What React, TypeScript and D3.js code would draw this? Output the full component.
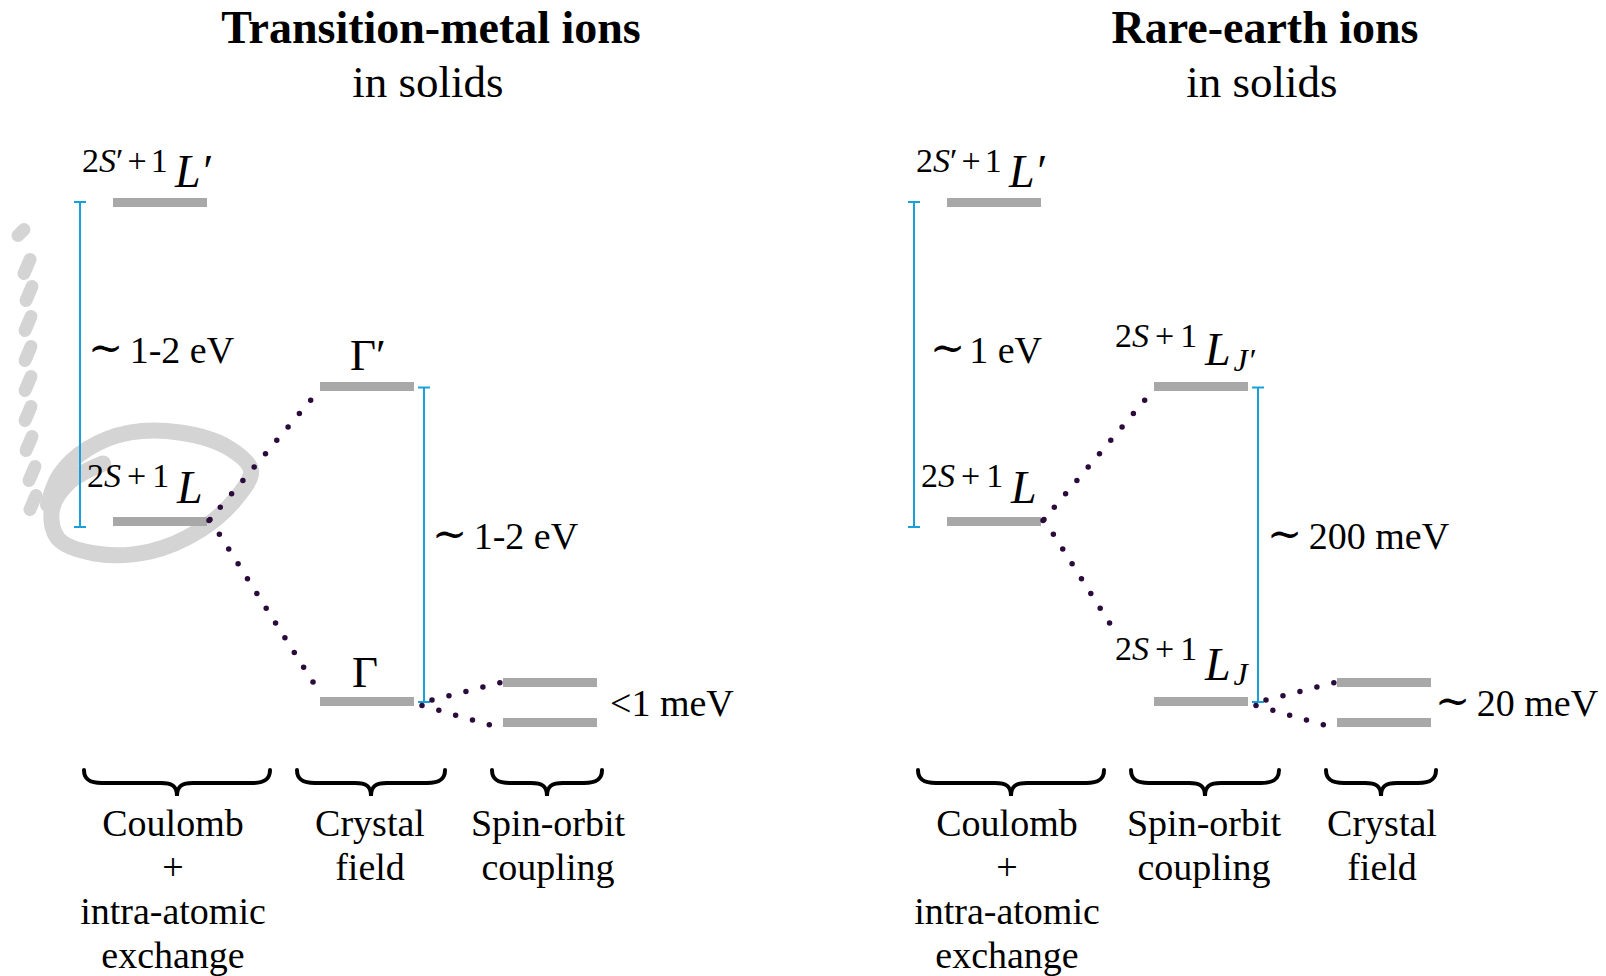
import * as d3 from "d3";
import { useEffect } from "react";

const W = 1606;
const H = 976;

// panel titles
const TITLES = ["Transition-metal ions", "Rare-earth ions"];
const SUBTITLE = "in solids";

// schematic level energies (arbitrary units)
const TERM_ENERGIES = [520, 201]; // excited term, ground term
const MID_ENERGIES = [336, 21]; // after 2nd interaction
const SPLIT_ENERGIES = [40, 0]; // after 3rd interaction

const GAP_LABELS = [
	["∼ 1-2 eV", "∼ 1-2 eV", "<1 meV"],
	["∼1 eV", "∼ 200 meV", "∼ 20 meV"],
];

const STAGE_LABELS = [
	[["Coulomb", "+", "intra-atomic", "exchange"], ["Crystal", "field"], ["Spin-orbit", "coupling"]],
	[["Coulomb", "+", "intra-atomic", "exchange"], ["Spin-orbit", "coupling"], ["Crystal", "field"]],
];

// hand-drawn highlight (offsets from the ground-term bar)
const RING = [
	[-10, -58], [-43, -40], [-61, -12], [-55, 17], [-18, 32], [37, 30], [88, 8],
	[123, -23], [138, -51], [115, -74], [67, -89], [17, -89], [-25, -73], [-53, -47], [-65, -17],
];
const DASHES = [
	[-92, -289], [-86, -255], [-84, -228], [-85, -198], [-85, -168], [-85, -138],
	[-85, -108], [-84, -78], [-81, -48], [-80, -19],
];

const SERIF = "'Liberation Serif', 'Times New Roman', serif";
const GRAY = "#a8a8a8";
const BLUE = "#1aa0d8";
const DOT = "#2a0b3c";

function bracePath(x0: number, x1: number, top: number) {
	const mid = (x0 + x1) / 2;
	const f = top + 13;
	const tip = top + 26;
	return `M${x0},${top} C${x0},${top + 9} ${x0 + 5},${f} ${x0 + 18},${f} L${mid - 16},${f} C${mid - 5},${f} ${mid},${f + 3} ${mid},${tip} C${mid},${f + 3} ${mid + 5},${f} ${mid + 16},${f} L${x1 - 18},${f} C${x1 - 5},${f} ${x1},${top + 9} ${x1},${top}`;
}

function GapLabel({ text, x, y }: { text: string; x: number; y: number }) {
	if (text.startsWith("∼")) {
		const rest = text.slice(1);
		return (
			<text x={x} y={y} fontFamily={SERIF} fontSize={38} fill="#000">
				<tspan fontFamily="'DejaVu Serif', serif" fontSize={42} dy={-1}>∼</tspan>
				<tspan dy={1} dx={rest.startsWith(" ") ? -3 : 4}>{rest}</tspan>
			</text>
		);
	}
	return (
		<text x={x} y={y} fontFamily={SERIF} fontSize={38} fill="#000">
			{text}
		</text>
	);
}

function Sup({ x, y, prime }: { x: number; y: number; prime?: boolean }) {
	return (
		<text x={x} y={y} fontFamily={SERIF} fontSize={34} fill="#000">
			<tspan>2</tspan>
			<tspan fontStyle="italic">S</tspan>
			{prime ? <tspan>′</tspan> : null}
			<tspan dx={prime ? 4 : 6}>+</tspan>
			<tspan dx={prime ? 4 : 6}>1</tspan>
		</text>
	);
}

export default function App() {
	useEffect(() => {
		document.body.style.margin = "0";
	}, []);

	const y = d3.scaleLinear().domain([0, 520]).range([722.5, 202.5]);
	const x = d3.scaleLinear().domain([0, 1, 2]).range([113, 320, 503]);
	const panelX = d3.scalePoint<number>().domain([0, 1]).range([0, 834]);
	const BAR = 94;
	const braces = [
		[84, 270],
		[297, 445],
		[492, 602],
	];
	const labelCenters = [173, 370, 548];
	const line = d3.line().curve(d3.curveCatmullRom.alpha(0.5));

	const gx = x(0);
	const gy = y(TERM_ENERGIES[1]);

	return (
		<svg width={W} height={H} style={{ position: "absolute", left: 0, top: 0, background: "#fff" }}>
			{/* hand-drawn annotation */}
			<g fill="none" stroke="#d4d4d4" strokeLinecap="round" strokeLinejoin="round">
				<path d={line(RING.map(([dx, dy]) => [gx + dx, gy + dy]) as [number, number][]) ?? ""} strokeWidth={16} />
				{DASHES.map(([dx, dy], i) => (
					<line
						key={i}
						x1={gx + dx + 3}
						y1={gy + dy - (i === 0 ? 3 : 7)}
						x2={gx + dx - 3}
						y2={gy + dy + (i === 0 ? 3 : 7)}
						strokeWidth={13}
					/>
				))}
			</g>

			{[0, 1].map((p) => {
				const ox = panelX(p) ?? 0;
				const conns = [
					[x(0) + BAR + 2, y(TERM_ENERGIES[1]) - 1, x(1) + 1, y(MID_ENERGIES[0]) + 1.5],
					[x(0) + BAR + 3, y(TERM_ENERGIES[1]) - 2, x(1) - 2, y(MID_ENERGIES[1]) - 11.5],
					[x(1) + BAR + 18, y(MID_ENERGIES[1]) - 1.5, x(2) - 2, y(SPLIT_ENERGIES[0])],
					[x(1) + BAR + 8, y(MID_ENERGIES[1]) + 4, x(2) - 13, y(SPLIT_ENERGIES[1]) + 2.5],
				];
				const b1x = x(0) - 33;
				const b2x = x(1) + BAR + 10;
				const brackets = [
					[b1x, y(TERM_ENERGIES[0]) - 0.5, y(TERM_ENERGIES[1]) + 5.5],
					[b2x, y(MID_ENERGIES[0]) + 1, y(MID_ENERGIES[1]) + 0.5],
				];
				const labelX = p === 0 ? [b1x + 8, b2x + 8, x(2) + BAR + 13] : [b1x + 16, b2x + 9, x(2) + BAR + 4];
				const labelY = [363, 549, 716];
				return (
					<g key={p} transform={`translate(${ox},0)`}>
						{/* titles */}
						<text x={431} y={43} textAnchor="middle" fontFamily={SERIF} fontWeight="bold" fontSize={46}>
							{TITLES[p]}
						</text>
						<text x={428} y={97} textAnchor="middle" fontFamily={SERIF} fontSize={45}>
							{SUBTITLE}
						</text>

						{/* levels */}
						<g fill={GRAY}>
							{TERM_ENERGIES.map((e, i) => (
								<rect key={`t${i}`} x={x(0)} y={y(e) - 4.5} width={BAR} height={9} />
							))}
							{MID_ENERGIES.map((e, i) => (
								<rect key={`m${i}`} x={x(1)} y={y(e) - 4.5} width={BAR} height={9} />
							))}
							{SPLIT_ENERGIES.map((e, i) => (
								<rect key={`s${i}`} x={x(2)} y={y(e) - 4.5} width={BAR} height={9} />
							))}
						</g>

						{/* energy brackets */}
						<g stroke={BLUE} strokeWidth={2}>
							{brackets.map(([bx, y0, y1], i) => (
								<g key={i}>
									<line x1={bx} x2={bx} y1={y0} y2={y1} />
									<line x1={bx - 6} x2={bx + 6} y1={y0} y2={y0} />
									<line x1={bx - 6} x2={bx + 6} y1={y1} y2={y1} />
								</g>
							))}
						</g>

						{/* dotted connectors */}
						<g stroke={DOT} strokeWidth={5.5} strokeLinecap="round" strokeDasharray="0 17.5">
							{conns.map(([x1, y1, x2, y2], i) => (
								<line key={i} x1={x1} y1={y1} x2={x2} y2={y2} />
							))}
						</g>

						{/* term symbols */}
						<Sup x={x(0) - 31} y={y(TERM_ENERGIES[0]) - 30.5} prime />
						<text x={x(0) + 62} y={y(TERM_ENERGIES[0]) - 15.5} fontFamily={SERIF} fontSize={46} fontStyle="italic">
							L′
						</text>
						<Sup x={x(0) - 26} y={y(TERM_ENERGIES[1]) - 35} />
						<text x={x(0) + 64} y={y(TERM_ENERGIES[1]) - 18.5} fontFamily={SERIF} fontSize={46} fontStyle="italic">
							L
						</text>

						{p === 0 ? (
							<>
								<text x={x(1) + 30} y={y(MID_ENERGIES[0]) - 16.5} fontFamily={SERIF} fontSize={45}>
									Γ′
								</text>
								<text x={x(1) + 32} y={y(MID_ENERGIES[1]) - 14.5} fontFamily={SERIF} fontSize={45}>
									Γ
								</text>
							</>
						) : (
							<>
								<Sup x={x(1) - 39} y={y(MID_ENERGIES[0]) - 39.5} />
								<text x={x(1) + 51} y={y(MID_ENERGIES[0]) - 21.5} fontFamily={SERIF} fontSize={46} fontStyle="italic">
									L
									<tspan fontSize={32} dy={6} dx={3}>
										J′
									</tspan>
								</text>
								<rect x={x(1) - 42} y={y(MID_ENERGIES[1]) - 70} width={122} height={60} fill="#fff" />
								<Sup x={x(1) - 39} y={y(MID_ENERGIES[1]) - 41.5} />
								<text x={x(1) + 51} y={y(MID_ENERGIES[1]) - 21.5} fontFamily={SERIF} fontSize={46} fontStyle="italic">
									L
									<tspan fontSize={32} dy={5} dx={3}>
										J
									</tspan>
								</text>
							</>
						)}

						{/* gap labels */}
						{GAP_LABELS[p].map((t, i) => (
							<GapLabel key={i} text={t} x={labelX[i]} y={labelY[i]} />
						))}

						{/* braces + stage labels */}
						{braces.map(([b0, b1], i) => (
							<path key={i} d={bracePath(b0, b1, 770)} fill="none" stroke="#000" strokeWidth={4} strokeLinecap="round" />
						))}
						{STAGE_LABELS[p].map((lines, i) => (
							<text key={i} textAnchor="middle" fontFamily={SERIF} fontSize={38}>
								{lines.map((l, j) => (
									<tspan key={j} x={labelCenters[i]} y={836 + j * 44}>
										{l}
									</tspan>
								))}
							</text>
						))}
					</g>
				);
			})}
		</svg>
	);
}
